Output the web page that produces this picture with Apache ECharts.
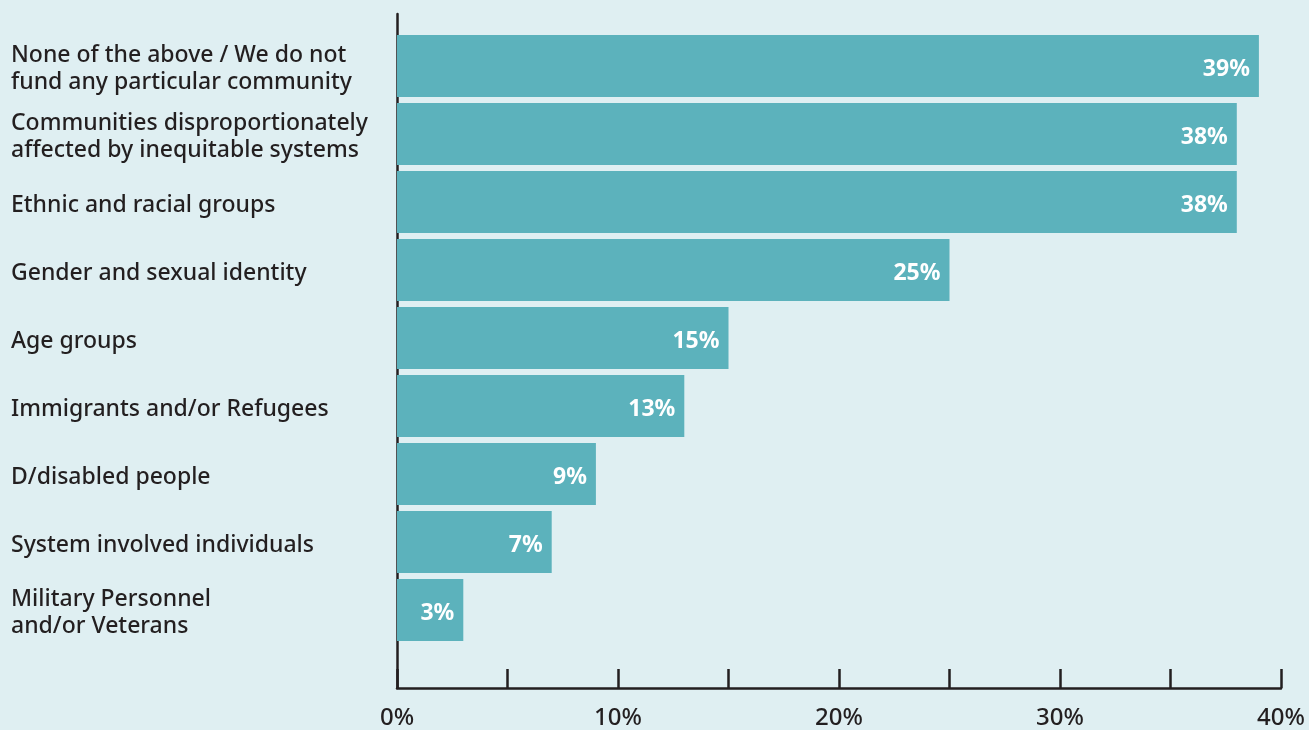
<!DOCTYPE html>
<html>
<head>
<meta charset="utf-8">
<script src="https://cdn.jsdelivr.net/npm/echarts@6/dist/echarts.min.js"></script>
<style>
html, body { margin: 0; padding: 0; background: #dfeff2; }
#chart { width: 1309px; height: 730px; }
</style>
</head>
<body>
<div id="chart"></div>
<script>
var categories = [
	'None of the above / We do not\nfund any particular community',
	'Communities disproportionately\naffected by inequitable systems',
	'Ethnic and racial groups',
	'Gender and sexual identity',
	'Age groups',
	'Immigrants and/or Refugees',
	'D/disabled people',
	'System involved individuals',
	'Military Personnel\nand/or Veterans'
];
var values = [39, 38, 38, 25, 15, 13, 9, 7, 3];
var tickLabels = ['0%', '10%', '20%', '30%', '40%'];

var fontFam = '"Noto Sans", sans-serif';
var ink = '#231f20';

var myChart = echarts.init(document.getElementById('chart'));
var option = {
	backgroundColor: '#dfeff2',
	grid: [{
		// axes frame
		left: 397,
		right: 28,
		top: 14,
		bottom: 41
	}, {
		// bars
		left: 397,
		right: 28,
		top: 32,
		height: 612
	}, {
		// category labels, sit a little lower than the bar centres
		left: 397,
		right: 28,
		top: 35,
		height: 612
	}],
	xAxis: [{
		gridIndex: 0,
		type: 'value',
		min: 0,
		max: 40,
		interval: 5,
		axisLine: { show: true, lineStyle: { color: ink, width: 2.5 } },
		axisTick: { show: true, inside: true, length: 19, lineStyle: { color: ink, width: 2.5 } },
		splitLine: { show: false },
		axisLabel: {
			margin: 18,
			color: ink,
			fontFamily: fontFam,
			fontWeight: 500,
			fontSize: 24,
			formatter: function (v) {
				return v % 10 === 0 ? tickLabels[v / 10] : '';
			}
		}
	}, {
		gridIndex: 1,
		type: 'value',
		min: 0,
		max: 40,
		show: false
	}, {
		gridIndex: 2,
		type: 'value',
		min: 0,
		max: 40,
		show: false
	}],
	yAxis: [{
		gridIndex: 0,
		type: 'value',
		axisLine: { show: true, lineStyle: { color: ink, width: 2.5 } },
		axisTick: { show: false },
		axisLabel: { show: false },
		splitLine: { show: false }
	}, {
		gridIndex: 1,
		type: 'category',
		inverse: true,
		data: categories,
		axisLine: { show: false },
		axisTick: { show: false },
		axisLabel: { show: false }
	}, {
		gridIndex: 2,
		type: 'category',
		inverse: true,
		data: categories,
		axisLine: { show: false },
		axisTick: { show: false },
		axisLabel: {
			align: 'left',
			margin: 386,
			color: ink,
			fontFamily: fontFam,
			fontWeight: 500,
			fontSize: 23,
			lineHeight: 27
		}
	}],
	series: [{
		type: 'bar',
		xAxisIndex: 1,
		yAxisIndex: 1,
		data: values,
		barCategoryGap: '8.8%',
		itemStyle: { color: '#5cb2bc' },
		label: {
			show: true,
			position: 'insideRight',
			distance: 9,
			offset: [0, 3],
			color: '#ffffff',
			fontFamily: fontFam,
			fontWeight: 'bold',
			fontSize: 23,
			formatter: '{c}%'
		},
		animation: false
	}]
};
myChart.setOption(option);
</script>
</body>
</html>
